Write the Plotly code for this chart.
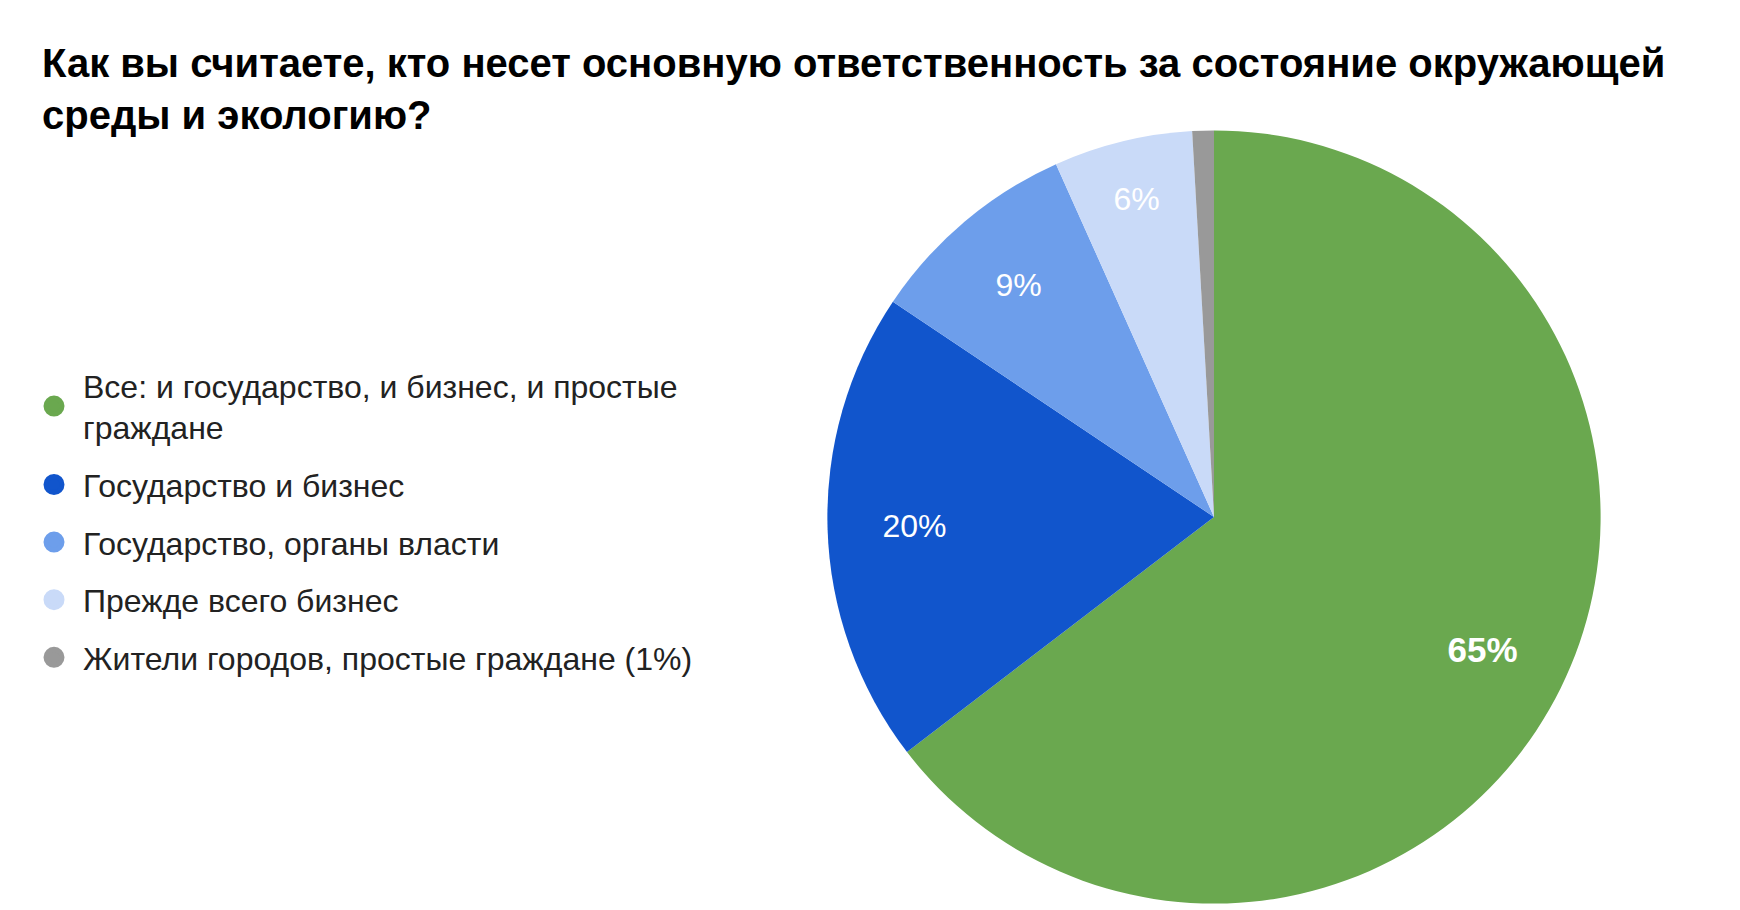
import plotly.graph_objects as go

labels = [
    "Все: и государство, и бизнес, и простые<br>граждане",
    "Государство и бизнес",
    "Государство, органы власти",
    "Прежде всего бизнес",
    "Жители городов, простые граждане (1%)",
]
values = [64.6, 19.8, 8.9, 5.8, 0.9]
colors = ["#6aa84f", "#1155cc", "#6d9eeb", "#c9daf8", "#999999"]
text_tpl = ["<b>%{percent:.0%}</b>", "%{percent:.0%}", "%{percent:.0%}", "%{percent:.0%}", ""]
text_sizes = [35, 32, 32, 32, 32]

title = "Как вы считаете, кто несет основную ответственность за состояние окружающей<br>среды и экологию?"

pie_domain = dict(x=[0.4708, 0.9154], y=[0.0158, 0.8655])

fig = go.Figure()

# coloured slices
fig.add_trace(go.Pie(
    labels=labels, values=values, sort=False,
    direction="clockwise", rotation=0,
    marker=dict(colors=colors, line=dict(width=0)),
    textinfo="none",
    showlegend=False,
    hoverinfo="label+percent",
    domain=pie_domain,
))

# transparent ring on top, only to put the percent labels further out
fig.add_trace(go.Pie(
    labels=labels, values=values, sort=False,
    direction="clockwise", rotation=0, hole=0.55,
    marker=dict(colors=["rgba(0,0,0,0)"] * len(values), line=dict(width=0)),
    texttemplate=text_tpl,
    textposition="inside",
    insidetextorientation="horizontal",
    textfont=dict(family="Liberation Sans, Arial", size=text_sizes, color="white"),
    showlegend=False,
    hoverinfo="skip",
    domain=pie_domain,
))

# legend entries with round markers
for lab, col in zip(labels, colors):
    fig.add_trace(go.Scatter(
        x=[None], y=[None], mode="markers", name=lab, legendgroup=lab,
        marker=dict(color=col, size=16, symbol="circle", line=dict(color=col, width=5)),
    ))

fig.update_layout(
    width=1740, height=910,
    paper_bgcolor="white", plot_bgcolor="white",
    margin=dict(l=0, r=0, t=0, b=0),
    title=dict(
        text="<b>" + title + "</b>",
        x=34 / 1740, xanchor="left", xref="paper",
        y=1 - 69 / 910, yanchor="top", yref="paper",
        font=dict(family="Liberation Sans, Arial", size=40, color="black"),
    ),
    xaxis=dict(visible=False),
    yaxis=dict(visible=False),
    legend=dict(
        x=17 / 1740, xanchor="left",
        y=1 - 350 / 910, yanchor="top",
        font=dict(family="Liberation Sans, Arial", size=32, color="#222222"),
        tracegroupgap=13,
        itemsizing="trace",
        itemwidth=48,
        bgcolor="rgba(0,0,0,0)",
    ),
)

fig.write_html("out.html")
